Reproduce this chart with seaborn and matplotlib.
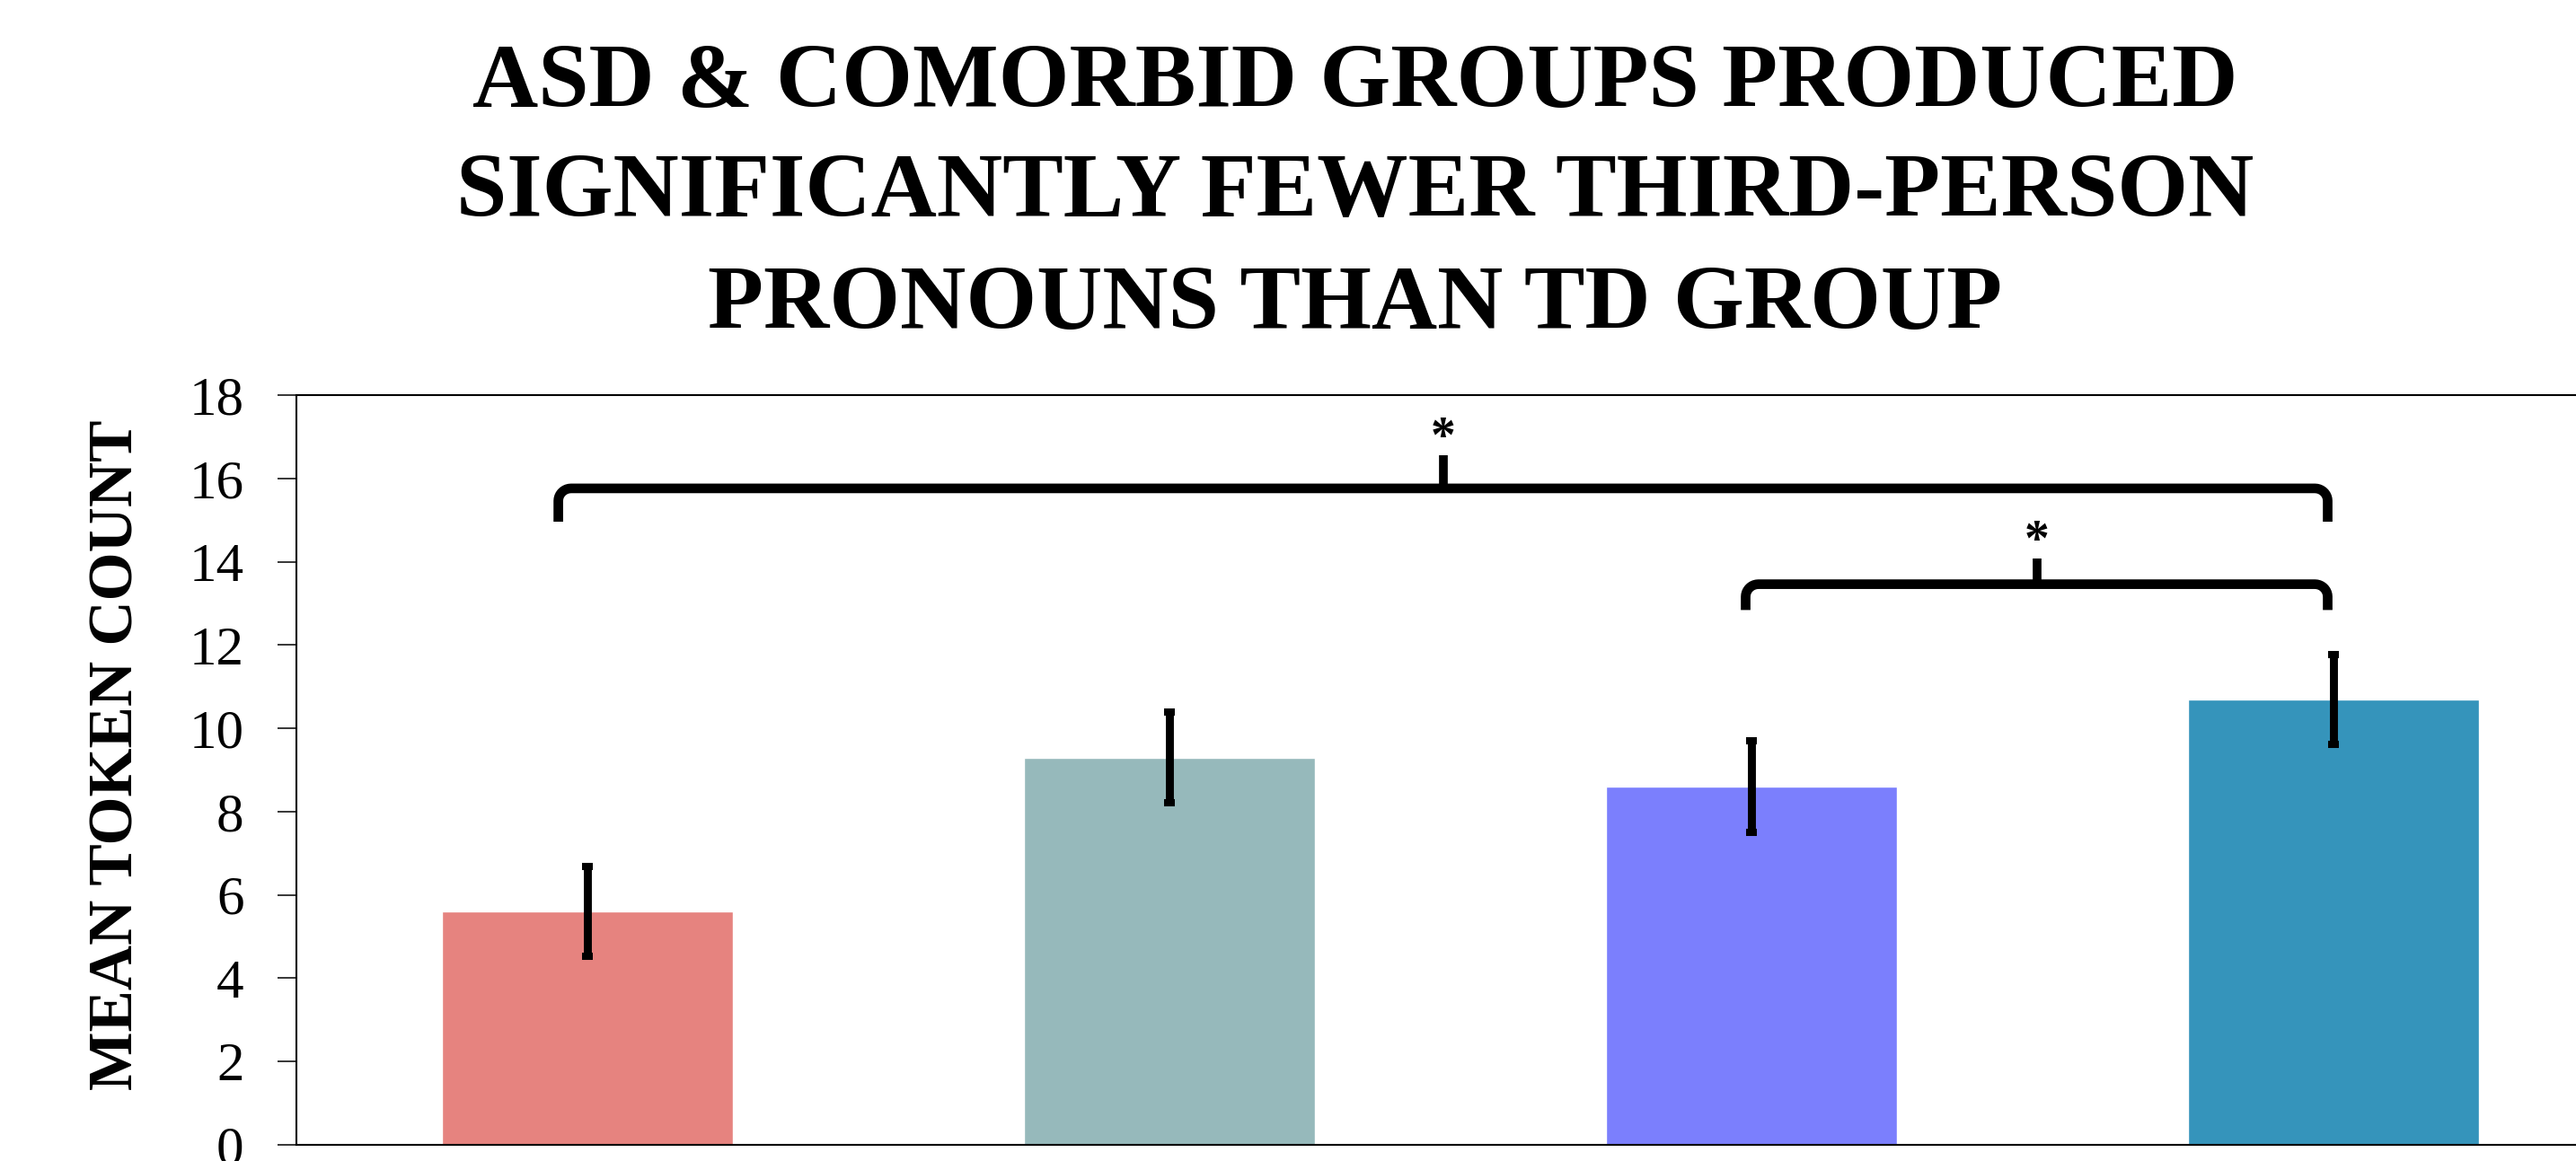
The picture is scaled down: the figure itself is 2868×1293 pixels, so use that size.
import matplotlib
matplotlib.use("Agg")
import matplotlib.pyplot as plt
import seaborn as sns
import numpy as np
import pandas as pd

# ---------------- data ----------------
categories = ["ASD", "ADHD", "ASD+ADHD", "TD"]      # x labels are cropped out of the original picture
means = [5.6, 9.3, 8.6, 10.7]
errors = [1.08, 1.08, 1.10, 1.08]
bar_colors = ["#E6837F", "#96B9BB", "#7B7FFD", "#3594BB"]
y_ticks = [0, 2, 4, 6, 8, 10, 12, 14, 16, 18]
title_lines = ["ASD & COMORBID GROUPS PRODUCED",
               "SIGNIFICANTLY FEWER THIRD-PERSON",
               "PRONOUNS THAN TD GROUP"]
y_label = "MEAN TOKEN COUNT"
# significance braces: left x, right x, line level, arm height, label
brace_left = [-0.05, 1.99]
brace_right = [2.99, 2.99]
brace_level = [15.76, 13.46]
brace_arm = [0.80, 0.62]
brace_label = ["*", "*"]

# ---------------- style ----------------
sns.set_theme(style="white")
plt.rcParams["font.family"] = ["Liberation Serif", "DejaVu Serif"]

W, H = 2868, 1293
fig = plt.figure(figsize=(W / 100, H / 100), dpi=100)
ax_left, ax_right = 330 / W, 2922 / W
ax_bottom, ax_top = 18 / H, (H - 440) / H
ax = fig.add_axes([ax_left, ax_bottom, ax_right - ax_left, ax_top - ax_bottom])

df = pd.DataFrame({"group": categories, "mean": means})
sns.barplot(data=df, x="group", y="mean", hue="group", palette=bar_colors,
            width=0.5, errorbar=None, legend=False, saturation=1, ax=ax)

ax.errorbar(x=np.arange(len(categories)), y=means, yerr=errors, fmt="none",
            ecolor="black", elinewidth=6.4, capsize=4.5, capthick=5.8, zorder=5)

ax.set_xlim(-0.5, 3.5)
ax.set_ylim(0, 18)
ax.set_yticks(y_ticks)
ax.set_yticklabels([str(t) for t in y_ticks])
ax.set_xticks(range(len(categories)))
ax.set_xticklabels([])
ax.tick_params(axis="x", length=0)
ax.tick_params(axis="y", direction="out", length=15, width=1.1, color="black",
               labelsize=44, pad=27, labelcolor="black", left=True)
ax.set_xlabel("")
ax.set_ylabel("")

for side in ["left", "bottom", "top", "right"]:
    ax.spines[side].set_visible(True)
    ax.spines[side].set_color("black")
    ax.spines[side].set_linewidth(1.5)

# y label
ax.text(-0.077, 0.52, y_label, transform=ax.transAxes, rotation=90,
        ha="center", va="center", fontsize=50, fontweight="bold", color="black")

# title lines
for line, yb in zip(title_lines, [119, 241.4, 365.8]):
    fig.text(0.526, 1 - yb / H, line, ha="center", va="baseline",
             fontsize=73, fontweight="bold", color="black")

# braces
rx, ry = 0.022, 0.30
for x0, x1, yl, h, lab in zip(brace_left, brace_right, brace_level, brace_arm, brace_label):
    xm = (x0 + x1) / 2
    a1 = np.linspace(np.pi, np.pi / 2, 10)
    a2 = np.linspace(np.pi / 2, 0, 10)
    cy = yl - ry
    xs = [x0] + list(x0 + rx + rx * np.cos(a1)) + list(x1 - rx + rx * np.cos(a2)) + [x1]
    ys = [yl - h] + list(cy + ry * np.sin(a1)) + list(cy + ry * np.sin(a2)) + [yl - h]
    ax.plot(xs, ys, color="black", lw=7.7, solid_capstyle="butt",
            solid_joinstyle="round", clip_on=False, zorder=6)
    ax.plot([xm, xm], [yl, yl + h], color="black", lw=7.0,
            solid_capstyle="butt", clip_on=False, zorder=6)
    ax.text(xm, yl + h + 0.08, lab, ha="center", va="baseline", fontsize=40,
            fontweight="bold", color="black", zorder=7)

fig.savefig("out.png", dpi=100)
